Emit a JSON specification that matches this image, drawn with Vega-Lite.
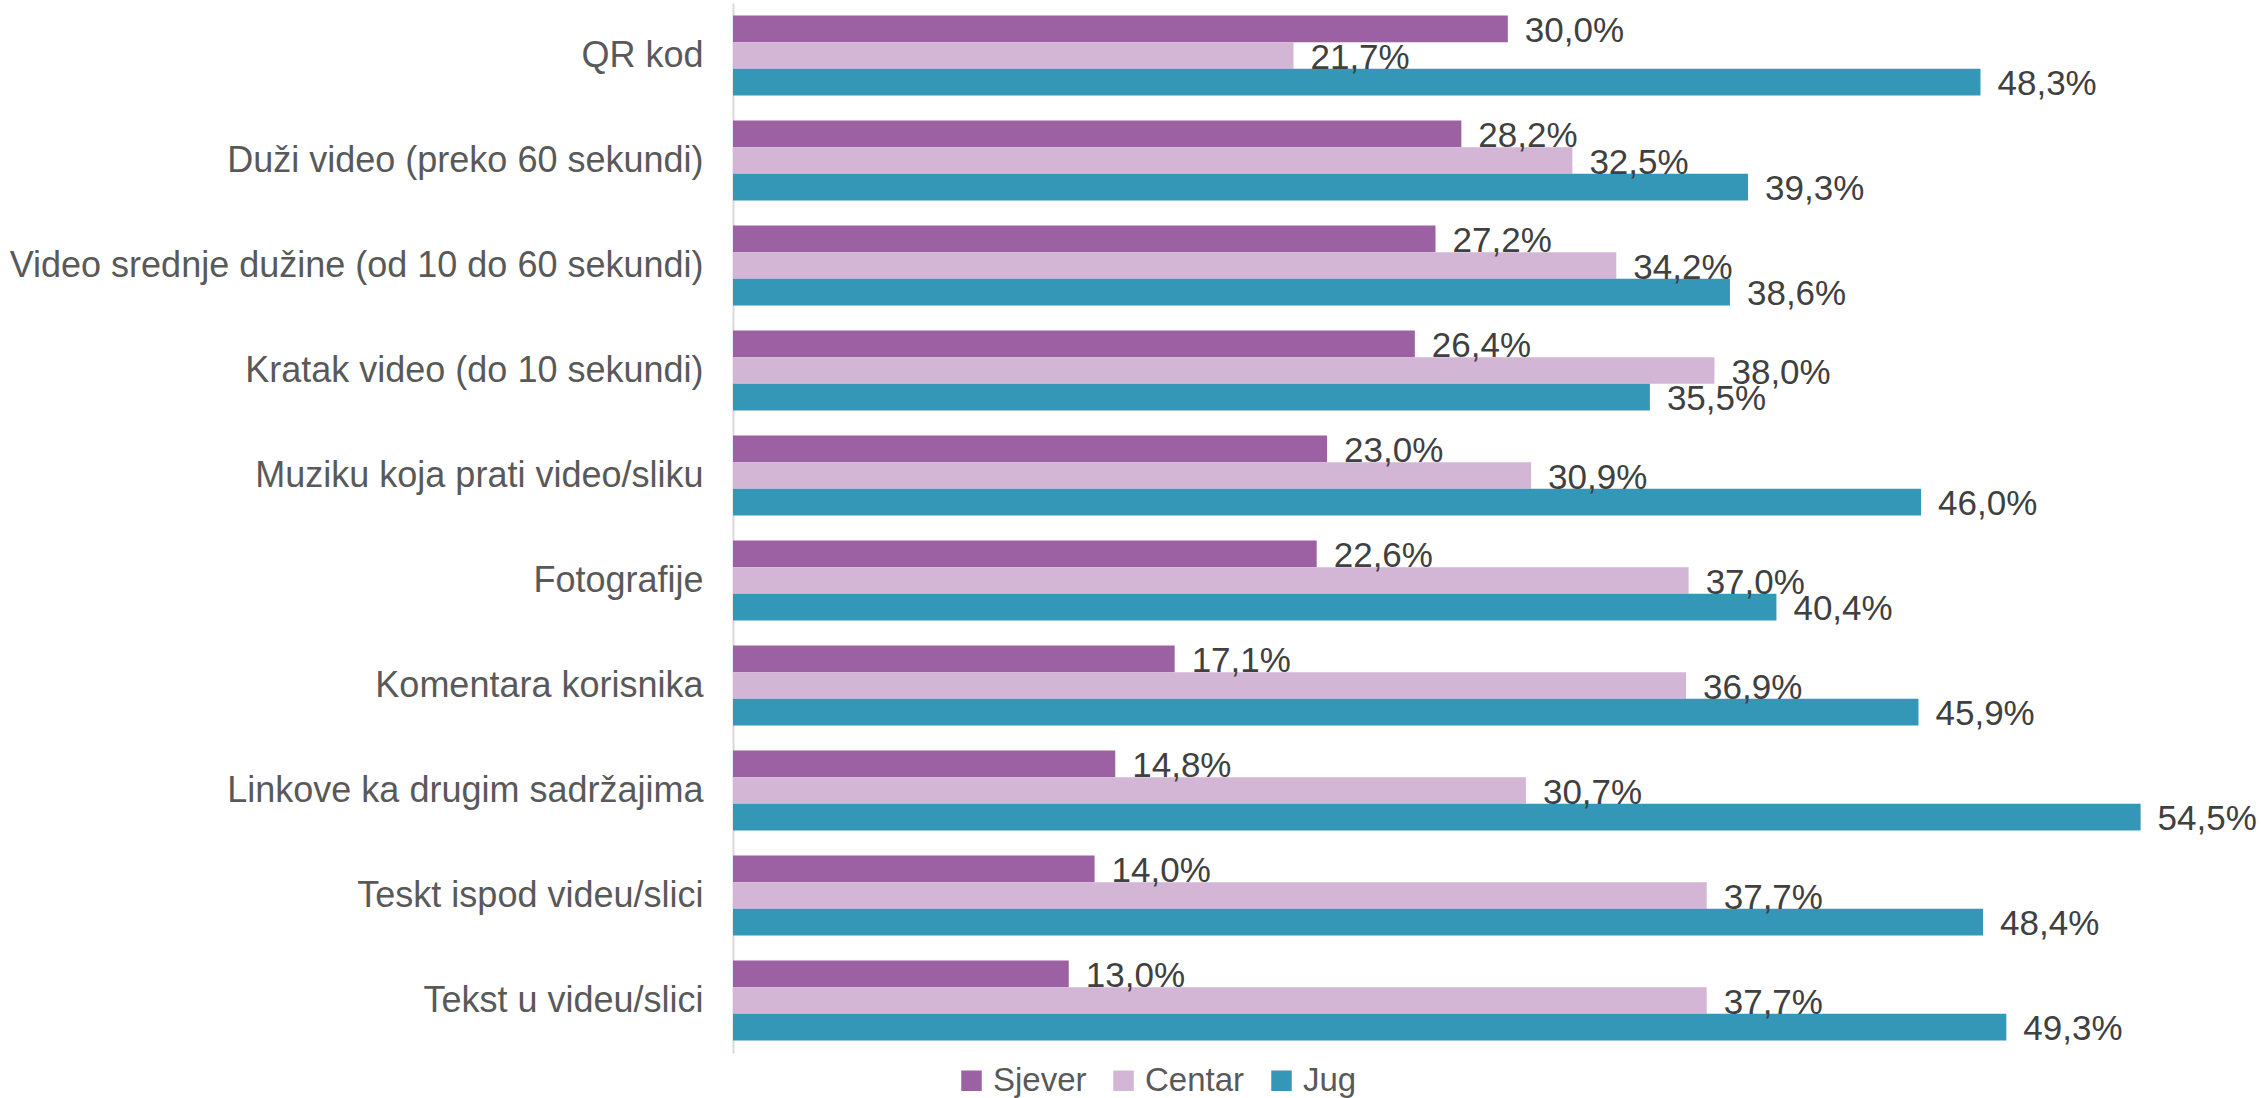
{
  "$schema": "https://vega.github.io/schema/vega-lite/v6.json",
  "width": 1529,
  "height": 1050,
  "autosize": {"type": "none"},
  "padding": {"left": 733, "top": 3, "right": 0, "bottom": 45},
  "background": "white",
  "config": {
    "view": {"stroke": null},
    "locale": {"number": {"decimal": ",", "thousands": ".", "grouping": [3], "currency": ["", " €"]}},
    "font": "Liberation Sans"
  },
  "data": {
    "values": [
      {"cat": "QR kod", "region": "Sjever", "v": 0.300},
      {"cat": "QR kod", "region": "Centar", "v": 0.217},
      {"cat": "QR kod", "region": "Jug", "v": 0.483},
      {"cat": "Duži video (preko 60 sekundi)", "region": "Sjever", "v": 0.282},
      {"cat": "Duži video (preko 60 sekundi)", "region": "Centar", "v": 0.325},
      {"cat": "Duži video (preko 60 sekundi)", "region": "Jug", "v": 0.393},
      {"cat": "Video srednje dužine (od 10 do 60 sekundi)", "region": "Sjever", "v": 0.272},
      {"cat": "Video srednje dužine (od 10 do 60 sekundi)", "region": "Centar", "v": 0.342},
      {"cat": "Video srednje dužine (od 10 do 60 sekundi)", "region": "Jug", "v": 0.386},
      {"cat": "Kratak video (do 10 sekundi)", "region": "Sjever", "v": 0.264},
      {"cat": "Kratak video (do 10 sekundi)", "region": "Centar", "v": 0.380},
      {"cat": "Kratak video (do 10 sekundi)", "region": "Jug", "v": 0.355},
      {"cat": "Muziku koja prati video/sliku", "region": "Sjever", "v": 0.230},
      {"cat": "Muziku koja prati video/sliku", "region": "Centar", "v": 0.309},
      {"cat": "Muziku koja prati video/sliku", "region": "Jug", "v": 0.460},
      {"cat": "Fotografije", "region": "Sjever", "v": 0.226},
      {"cat": "Fotografije", "region": "Centar", "v": 0.370},
      {"cat": "Fotografije", "region": "Jug", "v": 0.404},
      {"cat": "Komentara korisnika", "region": "Sjever", "v": 0.171},
      {"cat": "Komentara korisnika", "region": "Centar", "v": 0.369},
      {"cat": "Komentara korisnika", "region": "Jug", "v": 0.459},
      {"cat": "Linkove ka drugim sadržajima", "region": "Sjever", "v": 0.148},
      {"cat": "Linkove ka drugim sadržajima", "region": "Centar", "v": 0.307},
      {"cat": "Linkove ka drugim sadržajima", "region": "Jug", "v": 0.545},
      {"cat": "Teskt ispod videu/slici", "region": "Sjever", "v": 0.140},
      {"cat": "Teskt ispod videu/slici", "region": "Centar", "v": 0.377},
      {"cat": "Teskt ispod videu/slici", "region": "Jug", "v": 0.484},
      {"cat": "Tekst u videu/slici", "region": "Sjever", "v": 0.130},
      {"cat": "Tekst u videu/slici", "region": "Centar", "v": 0.377},
      {"cat": "Tekst u videu/slici", "region": "Jug", "v": 0.493}
    ]
  },
  "encoding": {
    "y": {
      "field": "cat", "type": "nominal", "sort": null,
      "scale": {"paddingInner": 0.238, "paddingOuter": 0.119},
      "axis": {
        "title": null, "ticks": false, "labelFontSize": 36, "labelColor": "#595959",
        "labelPadding": 30, "domainColor": "#D9D9D9", "domainWidth": 2, "labelLimit": 0,
        "labelFont": "Liberation Sans"
      }
    },
    "yOffset": {
      "field": "region", "type": "nominal",
      "sort": ["Sjever", "Centar", "Jug"],
      "scale": {"paddingInner": 0, "paddingOuter": 0}
    },
    "x": {
      "field": "v", "type": "quantitative",
      "scale": {"domain": [0, 0.592], "nice": false, "zero": true},
      "axis": null
    }
  },
  "layer": [
    {
      "mark": {"type": "bar"},
      "encoding": {
        "color": {
          "field": "region", "type": "nominal",
          "sort": ["Sjever", "Centar", "Jug"],
          "scale": {"domain": ["Sjever", "Centar", "Jug"], "range": ["#9C61A2", "#D3B6D6", "#3497B8"]},
          "legend": {
            "title": null, "orient": "none", "direction": "horizontal",
            "legendX": 222, "legendY": 1061,
            "symbolType": "square", "symbolSize": 420, "symbolStrokeWidth": 0,
            "labelFontSize": 33, "labelColor": "#595959", "labelOffset": 5,
            "columnPadding": 20, "labelFont": "Liberation Sans"
          }
        }
      }
    },
    {
      "mark": {"type": "text", "align": "left", "baseline": "alphabetic", "dx": 17, "dy": 13, "fontSize": 35, "color": "#404040"},
      "encoding": {
        "text": {"field": "v", "type": "quantitative", "format": ".1%"}
      }
    }
  ]
}
